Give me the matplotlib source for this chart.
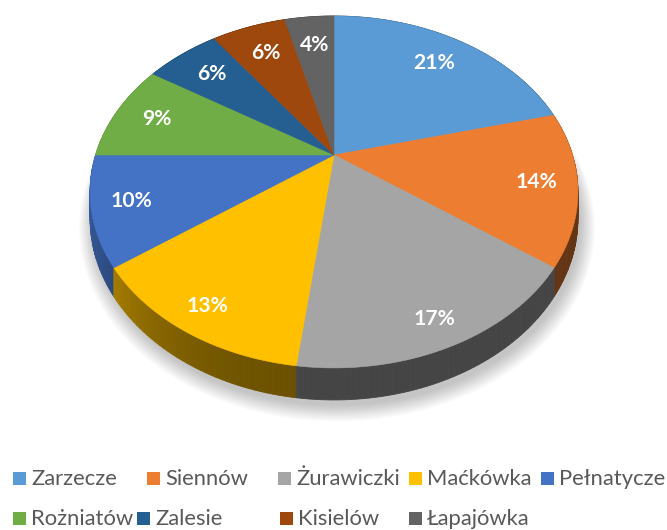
import numpy as np
import matplotlib
matplotlib.use("Agg")
import matplotlib.pyplot as plt
from matplotlib.patches import Polygon, Rectangle
from matplotlib.colors import to_rgb

# ---- data ----
categories = ["Zarzecze", "Siennów", "Żurawiczki", "Maćkówka", "Pełnatycze",
              "Rożniatów", "Zalesie", "Kisielów", "Łapajówka"]
values = [21, 14, 17, 13, 10, 9, 6, 6, 4]
colors = ["#5B9BD5", "#ED7D31", "#A5A5A5", "#FFC000", "#4472C4",
          "#70AD47", "#255E91", "#9E480E", "#636363"]

# ---- projection of the tilted disk (pixel space) ----
CX, CY = 334.0, 155.0
A, B, S = 168.2, 0.21, 238.5
H = 25.3


def proj(r, phi, z=0.0):
    x = r * np.sin(phi)
    t = r * np.cos(phi)
    d = 1 + B * t
    return CX + S * x / d, CY - A * t / d + z / d


fig = plt.figure(figsize=(6.67, 5.30), dpi=100)
ax = fig.add_axes([0, 0, 1, 1])
ax.set_xlim(0, 667)
ax.set_ylim(530, 0)
ax.axis("off")

total = float(sum(values))
fr = np.array(values) / total
starts = 2 * np.pi * np.concatenate([[0], np.cumsum(fr)[:-1]])
ends = 2 * np.pi * np.cumsum(fr)

# soft shadow
phis = np.linspace(0, 2 * np.pi, 361)
for k in range(10):
    grow = 1.0 + 0.006 * k
    xs, ys = proj(grow, phis, H + 4)
    ax.add_patch(Polygon(np.column_stack([xs + 3, ys + 1]), closed=True,
                         facecolor="#000000", edgecolor="none",
                         alpha=0.025, zorder=0))

# side walls
segs = []
for i, (a0, a1) in enumerate(zip(starts, ends)):
    n = max(3, int((a1 - a0) / 0.02))
    edges = np.linspace(a0, a1, n + 1)
    base = np.array(to_rgb(colors[i]))
    for p0, p1 in zip(edges[:-1], edges[1:]):
        pm = 0.5 * (p0 + p1)
        ps = np.linspace(p0, p1, 3)
        tx, ty = proj(1.0, ps)
        bx, by = proj(1.0, ps[::-1], H)
        poly = np.column_stack([np.concatenate([tx, bx]),
                                np.concatenate([ty, by])])
        s = np.sin(pm)
        f = 0.42 + 0.38 * max(0.0, -s) ** 2.5
        col = np.clip(base * f, 0, 1)
        segs.append((np.cos(pm), poly, col))
segs.sort(key=lambda s: -s[0])
for j, (_, poly, col) in enumerate(segs):
    ax.add_patch(Polygon(poly, closed=True, facecolor=col, edgecolor=col,
                         linewidth=0.6, zorder=1 + j * 1e-4))

# top faces
for i, (a0, a1) in enumerate(zip(starts, ends)):
    ps = np.linspace(a0, a1, 200)
    xs, ys = proj(1.0, ps)
    poly = np.column_stack([np.concatenate([[CX], xs]),
                            np.concatenate([[CY], ys])])
    ax.add_patch(Polygon(poly, closed=True, facecolor=colors[i],
                         edgecolor=colors[i], linewidth=0.4, zorder=3))

# data labels
for i, (a0, a1) in enumerate(zip(starts, ends)):
    pm = 0.5 * (a0 + a1)
    r = 0.825 - 0.06 * np.cos(pm)
    x, y = proj(r, pm)
    ax.text(x, y, f"{values[i]}%", color="white", fontsize=15.2,
            fontweight="bold", family=["Lato", "DejaVu Sans"],
            ha="center", va="center", zorder=5)

# legend (manual, flowing like the original)
leg_x = [13, 147, 278, 409, 541, 13, 137, 280, 409]
leg_row = [0, 0, 0, 0, 0, 1, 1, 1, 1]
row_base = [485, 525]
for i, name in enumerate(categories):
    x0 = leg_x[i]
    yb = row_base[leg_row[i]]
    ax.add_patch(Rectangle((x0, yb - 13), 12.5, 12.5, facecolor=colors[i],
                           edgecolor="none", zorder=5, clip_on=False))
    ax.text(x0 + 18, yb, name, color="#595959", fontsize=15.8,
            family=["Lato", "DejaVu Sans"], ha="left", va="baseline",
            zorder=5)

fig.savefig("out.png", dpi=100, facecolor="white")
